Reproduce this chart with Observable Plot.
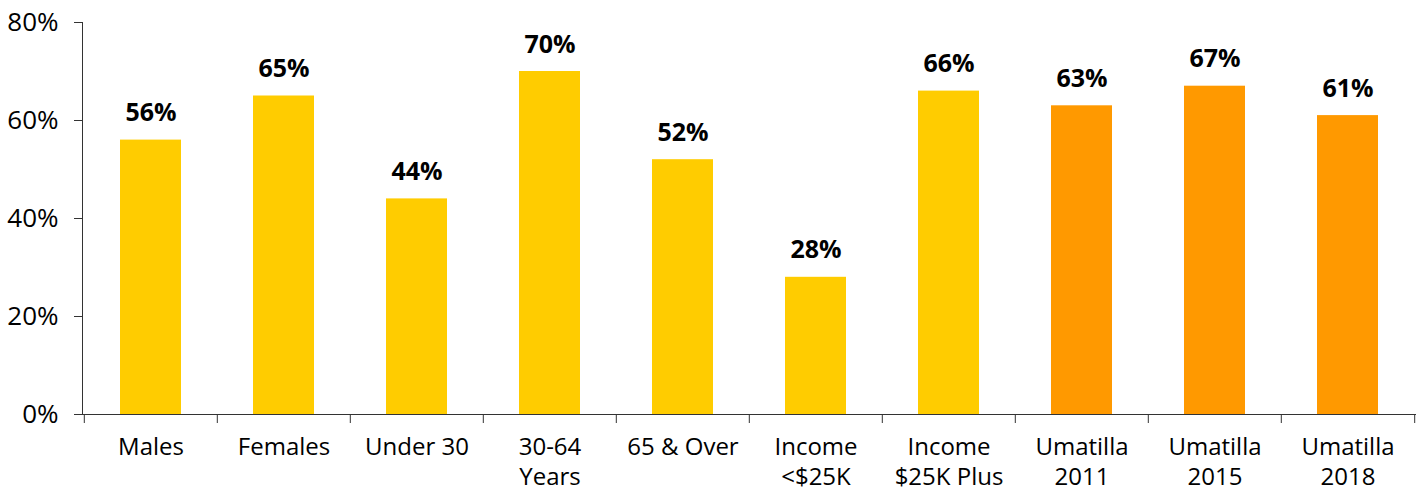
<!DOCTYPE html>
<html>
<head>
<meta charset="utf-8">
<script src="https://cdn.jsdelivr.net/npm/d3@7"></script>
<script src="https://cdn.jsdelivr.net/npm/@observablehq/plot@0.6"></script>
<style>
  html, body { margin: 0; padding: 0; background: #fff; }
  #chart { width: 1425px; height: 492px; }
</style>
</head>
<body>
<div id="chart"></div>
<script>
const categories = ["Males", "Females", "Under 30", "30-64\nYears", "65 & Over", "Income\n<$25K", "Income\n$25K Plus", "Umatilla\n2011", "Umatilla\n2015", "Umatilla\n2018"];
const values = [56, 65, 44, 70, 52, 28, 66, 63, 67, 61];
const groups = ["sub", "sub", "sub", "sub", "sub", "sub", "sub", "county", "county", "county"];
const yTicks = [0, 20, 40, 60, 80];

const data = categories.map((c, i) => ({category: c, value: values[i], group: groups[i]}));

const W = 1425, H = 492, ML = 82, MR = 9, MT = 22, MB = 78;
const step = (W - ML - MR) / categories.length;
const font = "'Open Sans', 'Noto Sans', sans-serif";

const chart = Plot.plot({
  width: W, height: H,
  marginLeft: ML, marginRight: MR, marginTop: MT, marginBottom: MB,
  style: {fontFamily: font, fontSize: "24px", color: "#000", background: "#fff", overflow: "visible"},
  x: {domain: categories, paddingInner: 0.54, paddingOuter: 0.27},
  y: {domain: [0, 80]},
  color: {domain: ["sub", "county"], range: ["#FFCC00", "#FF9900"]},
  marks: [
    Plot.barY(data, {x: "category", y: "value", fill: "group"}),
    Plot.text(data, {x: "category", y: "value", text: d => d.value + "%", fontWeight: "bold", fontSize: 25, lineAnchor: "bottom", dy: -19, fill: "#000"}),
    Plot.axisY({ticks: yTicks, tickFormat: d => d + "%", tickSize: 8, tickPadding: 16, label: null, fontSize: 26, stroke: "#333"}),
    Plot.frame({anchor: "left", stroke: "#333"}),
    Plot.ruleY([0], {stroke: "#333"}),
    Plot.axisX({tickSize: 0, tickPadding: 19, label: null, fontSize: 24, lineHeight: 1.25}),
    Plot.axisX({tickSize: 9, text: null, dx: -step / 2, label: null, stroke: "#333"}),
    Plot.axisX({ticks: [categories[categories.length - 1]], tickSize: 9, text: null, dx: step / 2, label: null, stroke: "#333"})
  ]
});
document.getElementById("chart").appendChild(chart);
</script>
</body>
</html>
